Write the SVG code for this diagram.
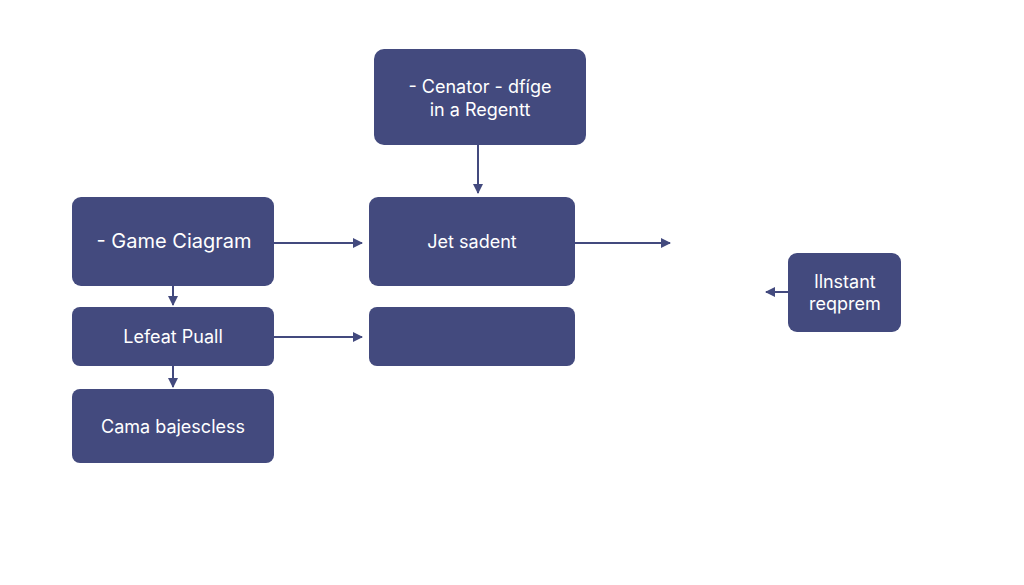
<svg xmlns="http://www.w3.org/2000/svg" width="1024" height="585" viewBox="0 0 1024 585">
<style>
.n{fill:#434a7e}
.t{fill:#fff;font-family:Inter,"Liberation Sans",sans-serif;font-size:18px;text-anchor:middle}
.c{stroke:#434a7e;stroke-width:2;fill:none;marker-end:url(#a)}
</style>
<defs><marker id="a" viewBox="0 0 10 10" refX="9" refY="5" markerWidth="10" markerHeight="10" markerUnits="userSpaceOnUse" orient="auto"><path d="M0,0L10,5L0,10z" fill="#434a7e"/></marker></defs>
<rect width="1024" height="585" fill="#fff"/>
<g id="n1"><rect class="n" x="374" y="49" width="212" height="96" rx="10"/><text class="t" x="480" y="93">- Cenator - dfíge</text><text class="t" x="480" y="116">in a Regentt</text></g>
<g id="n2"><rect class="n" x="369" y="197" width="206" height="89" rx="9"/><text class="t" x="472" y="248">Jet sadent</text></g>
<g id="n3"><rect class="n" x="369" y="307" width="206" height="59" rx="8"/></g>
<g id="n4"><rect class="n" x="72" y="197" width="202" height="89" rx="9"/><text class="t" x="174" y="248" style="font-size:20px">- Game Ciagram</text></g>
<g id="n5"><rect class="n" x="72" y="307" width="202" height="59" rx="8"/><text class="t" x="173" y="343">Lefeat Puall</text></g>
<g id="n6"><rect class="n" x="72" y="389" width="202" height="74" rx="8"/><text class="t" x="173" y="433">Cama bajescless</text></g>
<g id="n7"><rect class="n" x="788" y="253" width="113" height="79" rx="9"/><text class="t" x="845" y="288">llnstant</text><text class="t" x="845" y="310">reqprem</text></g>
<g id="connectors">
<path class="c" d="M478,145V193"/>
<path class="c" d="M274,243H362"/>
<path class="c" d="M575,243H670"/>
<path class="c" d="M274,337H362"/>
<path class="c" d="M173,286V305"/>
<path class="c" d="M173,366V387"/>
<path class="c" d="M788,292H766"/>
</g>
</svg>
